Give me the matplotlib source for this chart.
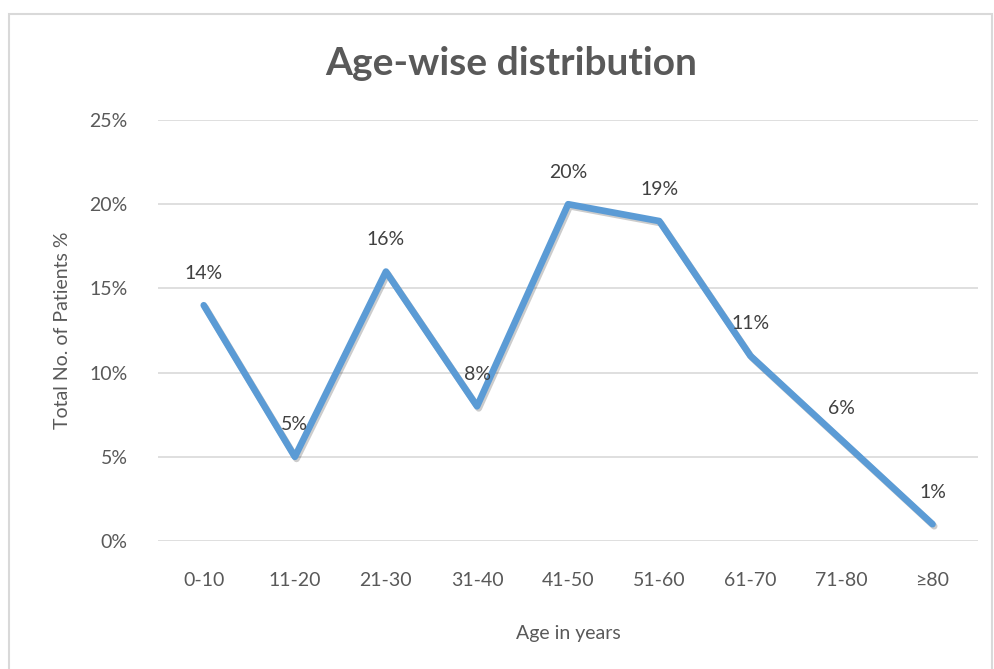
import numpy as np
import matplotlib.pyplot as plt
from matplotlib.patches import Rectangle
import matplotlib.patheffects as pe

plt.rcParams['font.family'] = ['Lato', 'DejaVu Sans']

age_groups = ['0-10', '11-20', '21-30', '31-40', '41-50', '51-60', '61-70', '71-80', '≥80']
patients_pct = [14, 5, 16, 8, 20, 19, 11, 6, 1]
y_ticks = [0, 5, 10, 15, 20, 25]

txt = '#595959'
blue = '#5B9BD5'

fig = plt.figure(figsize=(9.95, 6.69), dpi=100)
fig.patches.append(Rectangle((9/995, -0.01), (992-9)/995, 1 - 14/669 + 0.01,
                             transform=fig.transFigure, fill=False,
                             edgecolor='#D9D9D9', linewidth=1.5))

ax = fig.add_axes([0.159, 0.1913, 0.824, 0.6293])
x = np.arange(len(age_groups))
ax.plot(x, patients_pct, color=blue, linewidth=4.8, solid_capstyle='round',
        solid_joinstyle='round',
        path_effects=[pe.SimpleLineShadow(offset=(1.2, -1.5), alpha=0.2),
                      pe.Normal()])

# data labels above each point
for xi, v in zip(x, patients_pct):
    ax.annotate(f'{v}%', (xi, v), xytext=(0, 23), textcoords='offset points',
                ha='center', va='center', fontsize=14, color='#404040')

ax.set_xlim(-0.5, len(age_groups) - 0.5)
ax.set_ylim(0, 25)
ax.set_yticks(y_ticks)
ax.set_yticklabels([f'{t}%' for t in y_ticks])
ax.set_xticks(x)
ax.set_xticklabels(age_groups)
ax.tick_params(length=0, labelsize=14, labelcolor=txt)
ax.tick_params(axis='y', pad=22)
ax.tick_params(axis='x', pad=22)
ax.grid(axis='y', color='#D9D9D9', linewidth=1.2)
ax.set_axisbelow(True)
for s in ax.spines.values():
    s.set_visible(False)

ax.set_xlabel('Age in years', fontsize=14, color=txt, labelpad=26)
ax.set_ylabel('Total No. of Patients %', fontsize=14, color=txt, labelpad=13)
fig.text(0.514, 0.905, 'Age-wise distribution', ha='center', va='center',
         fontsize=28, fontweight='bold', color=txt)

plt.savefig('out.png', dpi=100)
